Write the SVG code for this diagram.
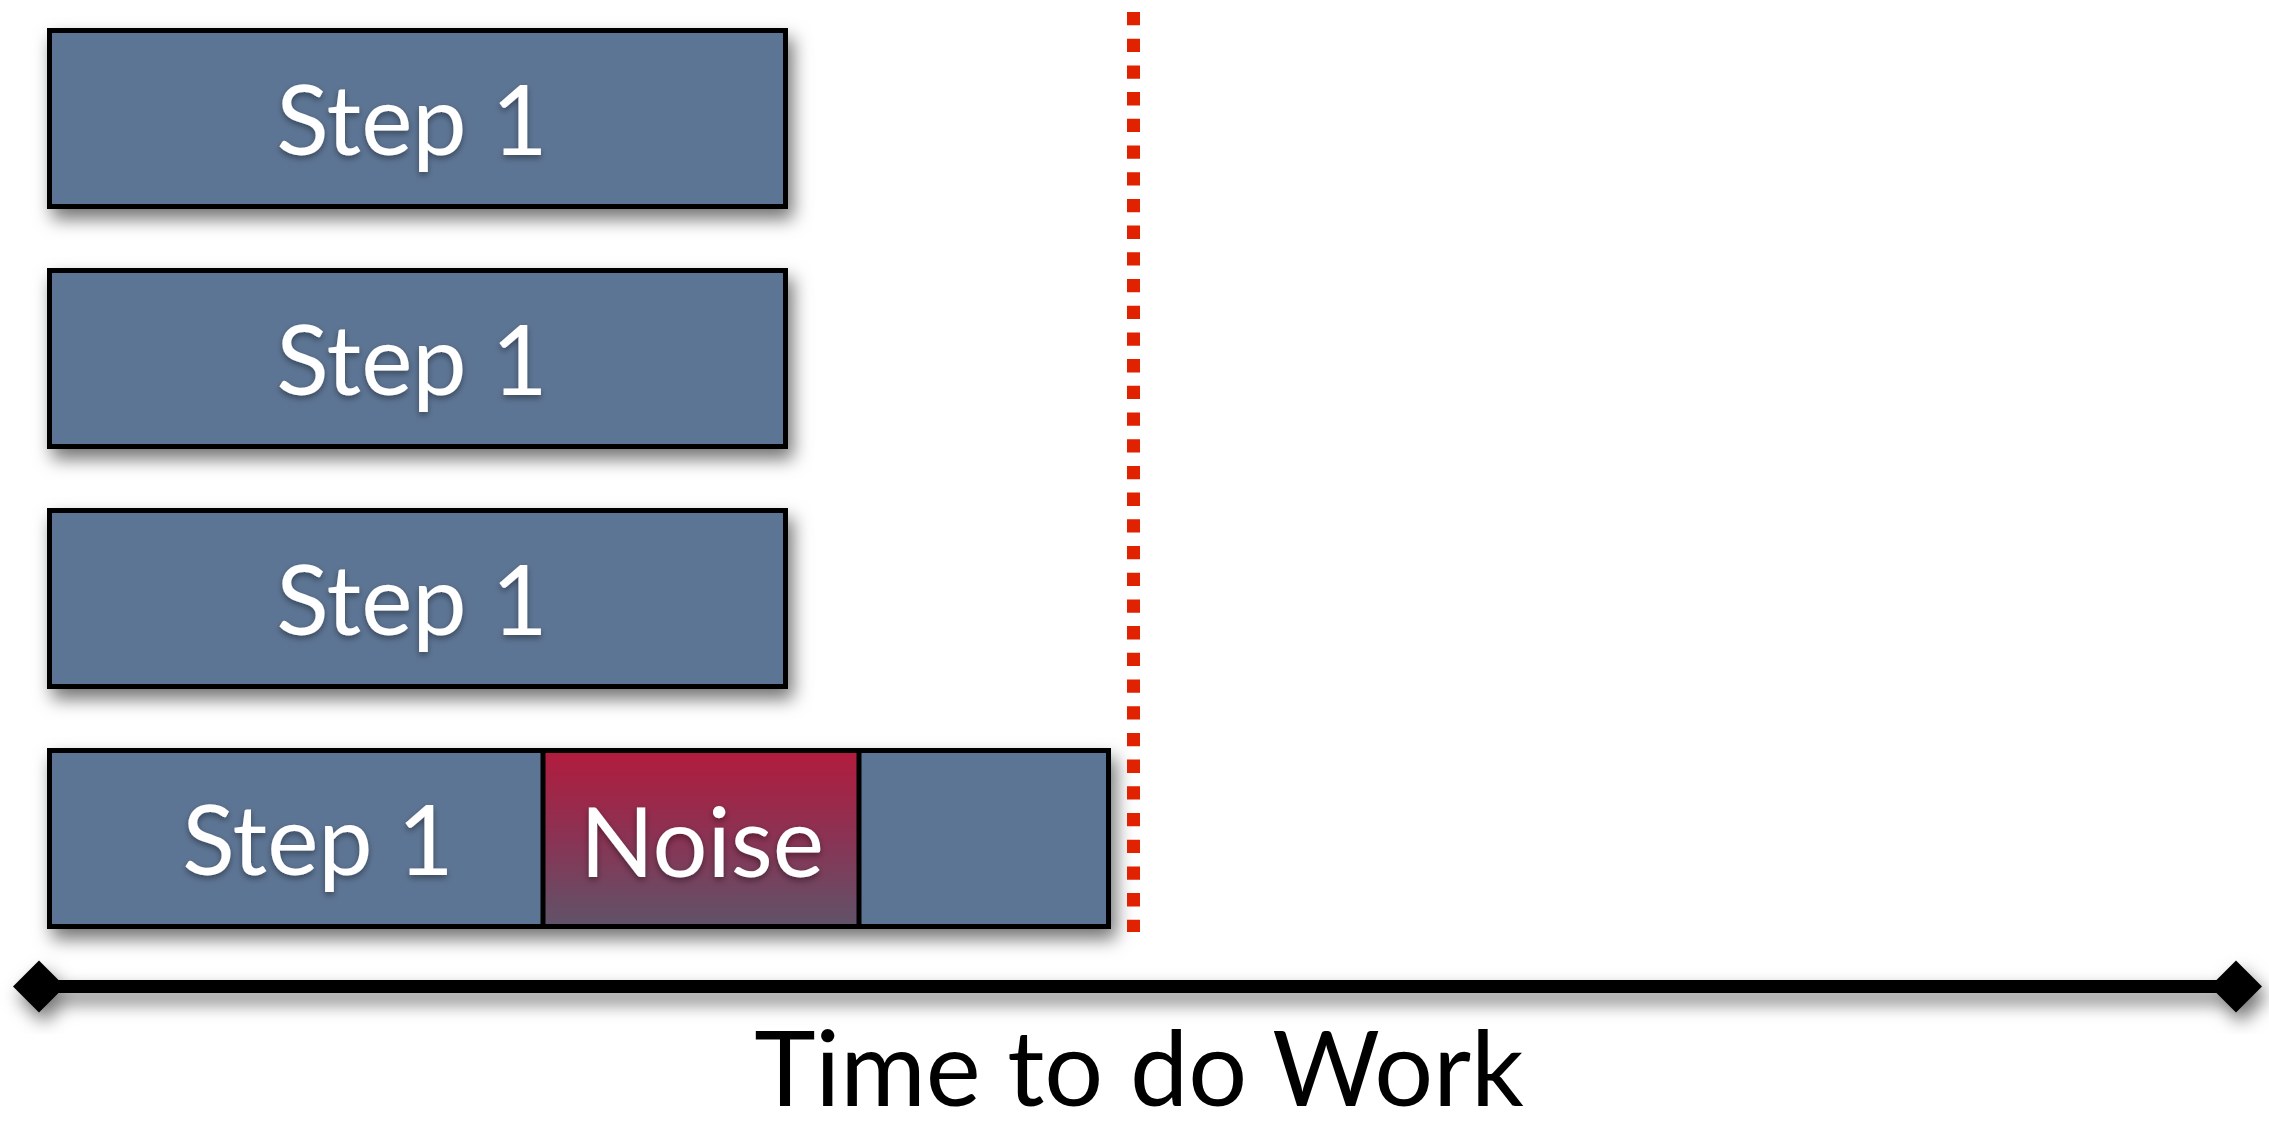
<svg xmlns="http://www.w3.org/2000/svg" width="2269" height="1121" viewBox="0 0 2269 1121">
<defs>
<style>
.box{fill:#5d7594;stroke:#000;stroke-width:5}
.lbl{font-family:Lato,"Open Sans",sans-serif;font-size:97px;fill:#fff;text-anchor:middle}
.axis{font-family:Lato,"Open Sans",sans-serif;font-size:104px;fill:#000;text-anchor:middle}
</style>
<filter id="sh" x="-10%" y="-20%" width="130%" height="160%">
<feDropShadow dx="5" dy="10" stdDeviation="9" flood-color="#000" flood-opacity="0.55"/>
</filter>
<filter id="tsh" x="-10%" y="-20%" width="130%" height="160%">
<feDropShadow dx="0" dy="3" stdDeviation="3" flood-color="#000" flood-opacity="0.4"/>
</filter>
<linearGradient id="noise" x1="0" y1="0" x2="0" y2="1">
<stop offset="0" stop-color="#b21b3d"/>
<stop offset="0.5" stop-color="#8a3354"/>
<stop offset="1" stop-color="#5f5369"/>
</linearGradient>
</defs>
<rect width="2269" height="1121" fill="#fff"/>
<g id="step1a">
<rect class="box" x="49.5" y="30.5" width="736" height="176" filter="url(#sh)"/>
<text class="lbl" x="412" y="155" filter="url(#tsh)">Step 1</text>
</g>
<g id="step1b">
<rect class="box" x="49.5" y="270.5" width="736" height="176" filter="url(#sh)"/>
<text class="lbl" x="412" y="395" filter="url(#tsh)">Step 1</text>
</g>
<g id="step1c">
<rect class="box" x="49.5" y="510.5" width="736" height="176" filter="url(#sh)"/>
<text class="lbl" x="412" y="635" filter="url(#tsh)">Step 1</text>
</g>
<g id="step1d">
<rect class="box" x="49.5" y="750.5" width="1059" height="176" filter="url(#sh)"/>
<rect x="543" y="750.5" width="316" height="176" fill="url(#noise)" stroke="#000" stroke-width="5"/>
<text class="lbl" x="318" y="875" filter="url(#tsh)">Step 1</text>
<text class="lbl" x="702" y="877" filter="url(#tsh)">Noise</text>
</g>
<g id="connectors">
<line x1="1133.5" y1="12" x2="1133.5" y2="932" stroke="#e02200" stroke-width="13" stroke-dasharray="13.3 13.4"/>
<g filter="url(#sh)">
<line x1="39" y1="986.5" x2="2236" y2="986.5" stroke="#000" stroke-width="13"/>
<polygon points="13,986.5 39,960.5 65,986.5 39,1012.5" fill="#000"/>
<polygon points="2210,986.5 2236,960.5 2262,986.5 2236,1012.5" fill="#000"/>
</g>
</g>
<text class="axis" x="1139" y="1106">Time to do Work</text>
</svg>
